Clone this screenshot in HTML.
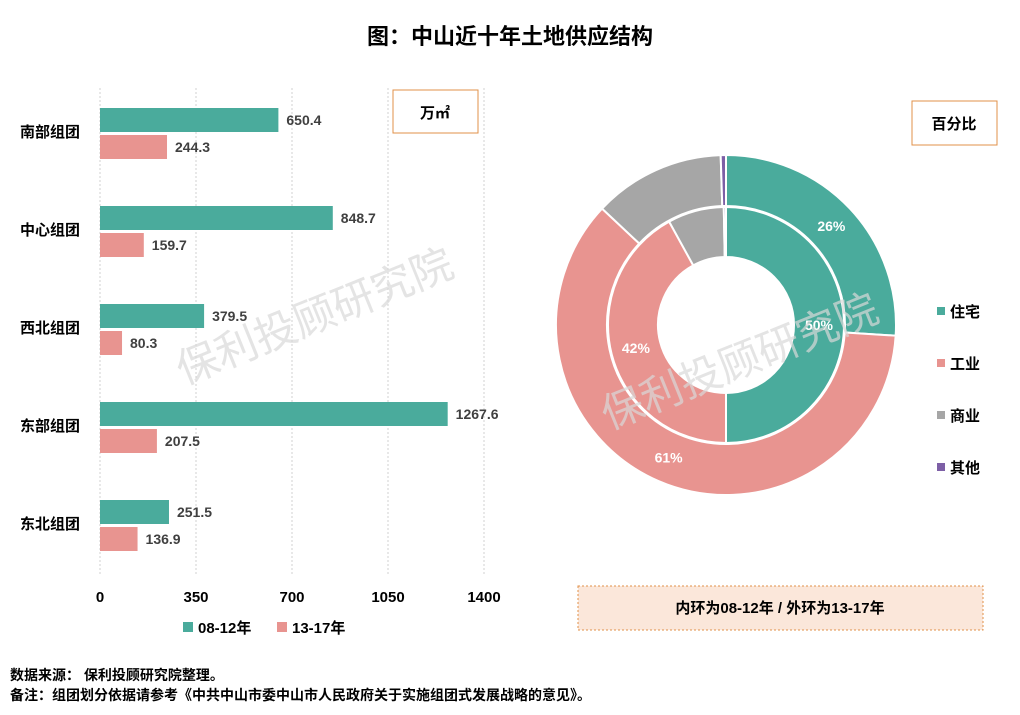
<!DOCTYPE html>
<html><head><meta charset="utf-8"><style>
body{margin:0;background:#fff;}
#root{position:relative;width:1020px;height:715px;overflow:hidden;font-family:"Liberation Sans","Noto Sans CJK SC",sans-serif;}
svg text{font-family:"Liberation Sans","Noto Sans CJK SC",sans-serif;}
</style></head><body>
<div id="root">
<svg id="svg" width="1020" height="715">
<text x="510" y="44" text-anchor="middle" font-size="22" font-weight="bold" fill="#000">图：中山近十年土地供应结构</text>
<g id="bars"></g>
<g id="donut"></g>
<rect x="393" y="90" width="85" height="43" fill="#fff" stroke="#e0904a"/>
<text x="435" y="118" text-anchor="middle" font-size="15" font-weight="bold">万㎡</text>
<rect x="912" y="101" width="85" height="44" fill="#fff" stroke="#e0904a"/>
<text x="954" y="129" text-anchor="middle" font-size="15" font-weight="bold">百分比</text>
<rect x="578" y="586" width="405" height="44" fill="#fbe7da" stroke="#e0904a" stroke-dasharray="2,2"/>
<text x="780" y="613" text-anchor="middle" font-size="15" font-weight="bold">内环为08-12年 / 外环为13-17年</text>
<text x="10" y="680" font-size="14" font-weight="bold">数据来源： 保利投顾研究院整理。</text>
<text x="10" y="700" font-size="14" font-weight="bold">备注：组团划分依据请参考《中共中山市委中山市人民政府关于实施组团式发展战略的意见》。</text>
<g id="legend"></g>
<g id="barlegend"></g>
<text x="320" y="330" font-size="42" fill="#d9d9d9" fill-opacity="0.7" transform="rotate(-22 320 330)" text-anchor="middle">保利投顾研究院</text>
<text x="745" y="375" font-size="42" fill="#d9d9d9" fill-opacity="0.7" transform="rotate(-22 745 375)" text-anchor="middle">保利投顾研究院</text>
</svg>
</div>
<script>
const categories=["南部组团","中心组团","西北组团","东部组团","东北组团"];
const series0812=[650.4,848.7,379.5,1267.6,251.5];
const series1317=[244.3,159.7,80.3,207.5,136.9];
const xTicks=[0,350,700,1050,1400];
const ringLabels=["住宅","工业","商业","其他"];
const innerPct=[50,42,7.7,0.3];
const outerPct=[26,61,12.5,0.5];
const colors=["#4aab9c","#e89490","#a6a6a6","#7d5fa6"];
const NS="http://www.w3.org/2000/svg";
function mk(t,a,p){const e=document.createElementNS(NS,t);for(const k in a)e.setAttribute(k,a[k]);p.appendChild(e);return e;}
const x=v=>100+v*384/1400;
const yC=i=>131+i*98;
const bars=document.getElementById('bars');
xTicks.forEach(t=>{
 const l=mk('line',{x1:x(t),x2:x(t),y1:88,y2:575,stroke:'#d0d0d0','stroke-dasharray':'2,2'},bars);
 
 
 const tx=mk('text',{x:x(t),y:602,'text-anchor':'middle','font-size':15,'font-weight':'bold'},bars);
 tx.textContent=t;
 
 
});
categories.forEach((c,i)=>{
 const cy=yC(i);
 const t=mk('text',{x:20,y:cy+6,'font-size':15,'font-weight':'bold'},bars);t.textContent=c;
 
 
 [[series0812,cy-23,colors[0]],[series1317,cy+4,colors[1]]].forEach(([s,y0,col],k)=>{
  const r=mk('rect',{x:x(0),y:y0,width:x(s[i])-x(0),height:24,fill:col},bars);
  
  
  const v=mk('text',{x:x(s[i])+8,y:y0+17,'font-size':14,'font-weight':'bold',fill:'#404040'},bars);v.textContent=s[i].toFixed(1);
  
  
 });
});
const bl=document.getElementById('barlegend');
[["08-12年",183],["13-17年",277]].forEach(([n,lx],k)=>{
 const r=mk('rect',{x:lx,y:622,width:10,height:10,fill:colors[k]},bl);
 
 
 const t=mk('text',{x:lx+15,y:633,'font-size':15,'font-weight':'bold'},bl);t.textContent=n;
 
 
});
const cx=726,cyD=325,d=document.getElementById('donut');
function arc(r0,r1,a0,a1){
 const p=(r,a)=>[cx+r*Math.sin(a),cyD-r*Math.cos(a)];
 const lg=(a1-a0)>Math.PI?1:0;
 const [x1,y1]=p(r1,a0),[x2,y2]=p(r1,a1),[x3,y3]=p(r0,a1),[x4,y4]=p(r0,a0);
 return `M${x1},${y1}A${r1},${r1} 0 ${lg} 1 ${x2},${y2}L${x3},${y3}A${r0},${r0} 0 ${lg} 0 ${x4},${y4}Z`;
}
function ring(pcts,r0,r1,name){
 const tot=pcts.reduce((a,b)=>a+b,0);let a=0;
 pcts.forEach((v,i)=>{
  const a0=a/tot*2*Math.PI;a+=v;const a1=a/tot*2*Math.PI;
  const e=mk('path',{d:arc(r0,r1,a0,a1),fill:colors[i],stroke:'#fff','stroke-width':2},d);
  
  
  if(v>=20){const m=(a0+a1)/2,rr=(r0+r1)/2;
   const t=mk('text',{x:cx+rr*Math.sin(m),y:cyD-rr*Math.cos(m)+5,'text-anchor':'middle','font-size':14,'font-weight':'bold',fill:'#fff'},d);
   t.textContent=Math.round(v)+'%';
   
   }
 });
}
ring(outerPct,119,170,'outer');
ring(innerPct,68,118,'inner');
const lg=document.getElementById('legend');
ringLabels.forEach((n,i)=>{
 const y=311+i*52;
 const r=mk('rect',{x:937,y:y-4,width:8,height:8,fill:colors[i]},lg);
 
 
 const t=mk('text',{x:950,y:y+6,'font-size':15,'font-weight':'bold'},lg);t.textContent=n;
 
 
});
</script>
</body></html>
